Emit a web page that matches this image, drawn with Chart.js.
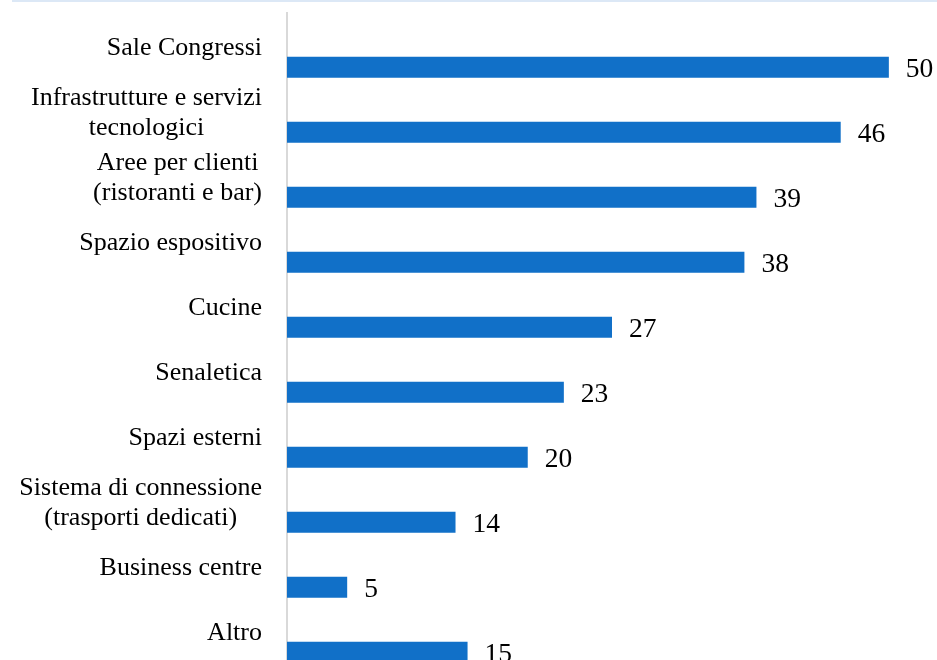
<!DOCTYPE html>
<html>
<head>
<meta charset="utf-8">
<script src="https://cdn.jsdelivr.net/npm/chart.js@4"></script>
<style>
  html, body { margin: 0; padding: 0; background: #fff; overflow: hidden; }
  #frame { position: absolute; left: 12px; top: 0; width: 925px; height: 2px; background: #dce8f6; }
  #wrap { position: absolute; left: 0; top: 0; width: 937px; height: 663px; }
</style>
</head>
<body>
<div id="frame"></div>
<div id="wrap"><canvas id="servizi"></canvas></div>
<script>
var categories = [
  ["Sale Congressi"],
  ["Infrastrutture e servizi", "tecnologici"],
  ["Aree per clienti", "(ristoranti e bar)"],
  ["Spazio espositivo"],
  ["Cucine"],
  ["Senaletica"],
  ["Spazi esterni"],
  ["Sistema di connessione", "(trasporti dedicati)"],
  ["Business centre"],
  ["Altro"]
];
var values = [50, 46, 39, 38, 27, 23, 20, 14, 5, 15];
var barColor = "#1170c8";
var serif = "'Liberation Serif', 'Times New Roman', serif";

// etichette delle categorie: righe centrate, blocco allineato a destra
var categoryLabels = {
  id: "categoryLabels",
  afterDraw: function(chart) {
    var ctx = chart.ctx;
    var y = chart.scales.y;
    ctx.save();
    ctx.font = "26px " + serif;
    ctx.fillStyle = "#000";
    ctx.textAlign = "center";
    ctx.textBaseline = "middle";
    categories.forEach(function(lines, i) {
      var w = 0;
      lines.forEach(function(l) { w = Math.max(w, ctx.measureText(l).width); });
      var cx = y.right - 25 - w / 2;
      var cy = y.getPixelForTick(i);
      lines.forEach(function(l, j) {
        ctx.fillText(l, cx, cy + (j - (lines.length - 1) / 2) * 30 + 2.5);
      });
    });
    ctx.restore();
  }
};

// valori a destra delle barre
var valueLabels = {
  id: "valueLabels",
  afterDatasetsDraw: function(chart) {
    var ctx = chart.ctx;
    var meta = chart.getDatasetMeta(2);
    ctx.save();
    ctx.font = "27.5px " + serif;
    ctx.fillStyle = "#000";
    ctx.textAlign = "left";
    ctx.textBaseline = "middle";
    meta.data.forEach(function(bar, i) {
      ctx.fillText(values[i], bar.x + 17, bar.y + 2.5);
    });
    ctx.restore();
  }
};

new Chart("servizi", {
  type: "bar",
  data: {
    labels: categories,
    datasets: [
      { data: [] },
      { data: [] },
      {
        data: values,
        backgroundColor: barColor,
        borderWidth: 0,
        categoryPercentage: 1,
        barPercentage: 0.97
      }
    ]
  },
  options: {
    indexAxis: "y",
    responsive: true,
    maintainAspectRatio: false,
    animation: false,
    layout: { padding: { top: 13, left: 0, right: 0, bottom: 0 } },
    datasets: { bar: { categoryPercentage: 1, barPercentage: 0.97 } },
    plugins: {
      legend: { display: false },
      tooltip: { enabled: false }
    },
    scales: {
      x: {
        display: false,
        min: 0,
        max: 54
      },
      y: {
        grid: { display: false },
        border: { display: true, color: "#d9d9d9", width: 2 },
        ticks: { display: false },
        afterFit: function(scale) { scale.width = 287; }
      }
    }
  },
  plugins: [categoryLabels, valueLabels]
});
</script>
</body>
</html>
